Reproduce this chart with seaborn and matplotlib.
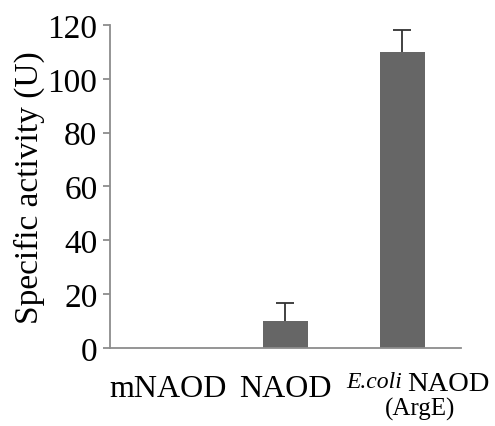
import matplotlib
matplotlib.use("Agg")
import matplotlib.pyplot as plt
import seaborn as sns
import numpy as np
import pandas as pd

# --- DATA ---
categories = ["mNAOD", "NAOD", "E.coli NAOD"]
activity = [0.0, 10.0, 110.0]
err_upper = [0.0, 6.7, 8.0]
tick_labels = ["mNAOD", "NAOD", ""]

BAR_COLOR = "#666666"
AXIS_COLOR = "#8c8c8c"

sns.set_style("white")
plt.rcParams["font.family"] = ["Liberation Serif", "DejaVu Serif"]

fig = plt.figure(figsize=(4.95, 4.27), dpi=100)
ax = fig.add_axes([0.222, 0.183, 0.709, 0.756])

df = pd.DataFrame({"cat": categories, "val": activity})
sns.barplot(data=df, x="cat", y="val", color=BAR_COLOR, width=0.39,
            saturation=1, edgecolor="none", ax=ax)

# one-sided error bars (upper only), skip zero bars
idx = [i for i, e in enumerate(err_upper) if e > 0]
eb = ax.errorbar(idx, [activity[i] for i in idx],
                 yerr=[[0] * len(idx), [err_upper[i] for i in idx]],
                 fmt="none", ecolor="#333333", elinewidth=1.3, capsize=6.5,
                 capthick=1.3, zorder=1)
caps = eb[1]
if len(caps) == 2:
    caps[0].set_visible(False)  # drop the lower cap

ax.set_xlim(-0.5, 2.5)
ax.set_ylim(0, 120)
ax.set_yticks(np.arange(0, 121, 20))
ax.set_xticks([0, 1, 2])
ax.set_xticklabels(tick_labels, fontsize=23)
ax.set_xticks([-0.5, 0.5, 1.5, 2.5], minor=True)
ax.tick_params(axis="x", which="major", length=0, pad=19, labelcolor="black")
ax.tick_params(axis="x", which="minor", length=10, width=1.3, color=AXIS_COLOR,
               direction="out")
ax.tick_params(axis="y", length=5, width=1.3, color=AXIS_COLOR, labelsize=24,
               pad=4, left=True, labelcolor="black")
ax.set_xlabel("")
ax.set_ylabel("Specific activity (U)", fontsize=24, labelpad=2, color="black")

for s in ["top", "right"]:
    ax.spines[s].set_visible(False)
for s in ["left", "bottom"]:
    ax.spines[s].set_color(AXIS_COLOR)
    ax.spines[s].set_linewidth(1.3)

# third category label, smaller with italic species name
trans = ax.get_xaxis_transform()
ax.text(1.995, -0.073, "E.coli", transform=trans, ha="right", va="top",
        fontsize=17, fontstyle="italic", color="black")
ax.text(2.04, -0.073, "NAOD", transform=trans, ha="left", va="top",
        fontsize=20.5, color="black")
ax.text(2.154, -0.152, "(ArgE)", transform=trans, ha="center", va="top",
        fontsize=18, color="black")

fig.savefig("out.png", dpi=100)
